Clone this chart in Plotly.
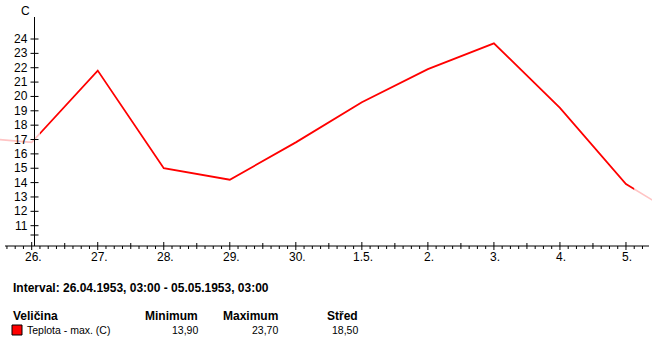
import plotly.graph_objects as go

# ---- data ----
day_index = [-1, 0, 1, 2, 3, 4, 5, 6, 7, 8, 9, 10]
teplota_max = [17.2, 16.8, 21.8, 15.0, 14.2, 16.8, 19.6, 21.9, 23.7, 19.2, 13.9, 11.1]
tick_days = [0, 1, 2, 3, 4, 5, 6, 7, 8, 9]
tick_labels = ["26.", "27.", "28.", "29.", "30.", "1.5.", "2.", "3.", "4.", "5."]
y_ticks = [11, 12, 13, 14, 15, 16, 17, 18, 19, 20, 21, 22, 23, 24]
interval_start, interval_end = 0.125, 9.125
stats_header = ["Veličina", "Minimum", "Maximum", "Střed"]
stats_row = ["Teplota - max. (C)", "13,90", "23,70", "18,50"]
interval_text = "Interval: 26.04.1953, 03:00 - 05.05.1953, 03:00"

W, H = 652, 351
X0, DX = 31.7, 66.03      # pixel of day 0, pixels per day
Y24, DY = 39.0, 14.36     # pixel of value 24, pixels per unit

def xd(px):
    return (px - X0) / DX

def yv(py):
    return 24 - (py - Y24) / DY

def pxf(px):
    return px / W

def pyf(py):
    return 1 - py / H

FONT = "Liberation Sans"
RED = "#ff0000"
PALE = "#ffc4c4"

fig = go.Figure()
fig.add_trace(go.Scatter(x=day_index, y=teplota_max, mode="lines",
                         line=dict(color=PALE, width=1.6), xaxis="x", yaxis="y",
                         hoverinfo="skip", showlegend=False))
fig.add_trace(go.Scatter(x=day_index, y=teplota_max, mode="lines",
                         line=dict(color=RED, width=1.8), xaxis="x2", yaxis="y",
                         showlegend=False))

shapes = []
axis_line = dict(color="black", width=1)
x_axis_v = yv(246)
shapes.append(dict(type="line", xref="x", yref="y", x0=xd(5), x1=xd(649),
                   y0=x_axis_v, y1=x_axis_v, line=axis_line))
shapes.append(dict(type="line", xref="x", yref="y", x0=xd(34.5), x1=xd(34.5),
                   y0=yv(17), y1=x_axis_v, line=axis_line))
for v in y_ticks + [yv(235)]:
    shapes.append(dict(type="line", xref="x", yref="y", x0=xd(30.5), x1=xd(38.5),
                       y0=v, y1=v, line=axis_line))
for d in range(-1, 11):
    for k in range(8):
        t = d + k / 8
        if xd(5) <= t <= xd(649):
            if k == 0:
                top, bot = 242, 250
            elif k == 4:
                top, bot = 243, 249
            else:
                top, bot = 246, 249
            shapes.append(dict(type="line", xref="x", yref="y", x0=t, x1=t,
                               y0=yv(top), y1=yv(bot), line=axis_line))
shapes.append(dict(type="rect", xref="paper", yref="paper",
                   x0=pxf(12), x1=pxf(22), y0=pyf(335), y1=pyf(325),
                   fillcolor=RED, line=dict(color="black", width=1)))

ann = []
for d, lab in zip(tick_days, tick_labels):
    ann.append(dict(x=d + xd(33) - xd(31.7), y=yv(257), xref="x", yref="y", text=lab,
                    showarrow=False, xanchor="center", yanchor="middle",
                    font=dict(family=FONT, size=12, color="black")))
for v in y_ticks:
    ann.append(dict(x=xd(29.5), y=v, xref="x", yref="y", text=str(v),
                    showarrow=False, xanchor="right", yanchor="middle",
                    font=dict(family=FONT, size=12, color="black")))
ann.append(dict(x=pxf(25), y=pyf(11), xref="paper", yref="paper", text="C",
                showarrow=False, xanchor="center", yanchor="middle",
                font=dict(family=FONT, size=12, color="black")))
ann.append(dict(x=pxf(11), y=pyf(288), xref="paper", yref="paper",
                text="<b>" + interval_text + "</b>", showarrow=False,
                xanchor="left", yanchor="middle",
                font=dict(family=FONT, size=12, color="black")))
col_right = [None, 200, 280, 360]
for i, h in enumerate(stats_header):
    xanchor = "left" if i == 0 else "right"
    xpos = 11 if i == 0 else col_right[i]
    ann.append(dict(x=pxf(xpos), y=pyf(316), xref="paper", yref="paper",
                    text="<b>" + h + "</b>", showarrow=False, xanchor=xanchor,
                    yanchor="middle", font=dict(family=FONT, size=12, color="black")))
for i, s in enumerate(stats_row):
    xanchor = "left" if i == 0 else "right"
    xpos = 25 if i == 0 else col_right[i]
    ann.append(dict(x=pxf(xpos), y=pyf(330), xref="paper", yref="paper",
                    text=s, showarrow=False, xanchor=xanchor,
                    yanchor="middle", font=dict(family=FONT, size=10.5, color="black")))

x_range = [xd(0), xd(W)]
x2_px0 = X0 + DX * interval_start
x2_px1 = X0 + DX * interval_end
fig.update_layout(
    width=W, height=H, margin=dict(l=0, r=0, t=0, b=0),
    paper_bgcolor="white", plot_bgcolor="white",
    xaxis=dict(range=x_range, domain=[0, 1], visible=False, fixedrange=True),
    xaxis2=dict(range=[interval_start, interval_end],
                domain=[x2_px0 / W, x2_px1 / W], anchor="y", visible=False,
                fixedrange=True),
    yaxis=dict(range=[yv(H), yv(0)], domain=[0, 1], visible=False, fixedrange=True),
    shapes=shapes, annotations=ann, showlegend=False,
)
fig.write_html("out.html")
